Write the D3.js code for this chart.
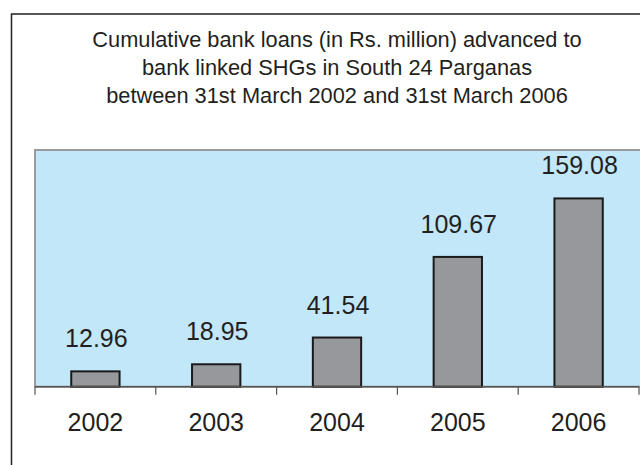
<!DOCTYPE html>
<html><head><meta charset="utf-8">
<script src="https://cdn.jsdelivr.net/npm/d3@7"></script>
<style>html,body{margin:0;padding:0;background:#fff;}svg{display:block;}</style>
</head><body>
<svg id="c" width="640" height="465"></svg>
<script>
const categories = ["2002","2003","2004","2005","2006"];
const values = [12.96, 18.95, 41.54, 109.67, 159.08];
const valueLabels = ["12.96","18.95","41.54","109.67","159.08"];
const titleLines = [
  "Cumulative bank loans (in Rs. million) advanced to",
  "bank linked SHGs in South 24 Parganas",
  "between 31st March 2002 and 31st March 2006"
];
const yDomain = [0, 200];

(function(){
const svg = d3.select("#c");
const font = "'Liberation Sans', Arial, sans-serif";
const ink = "#231f20";

// outer frame
svg.append("rect").attr("x",11.5).attr("y",14).attr("width",700).attr("height",500)
  .attr("fill","#fff").attr("stroke","#222").attr("stroke-width",1.5);

// title
svg.append("g").selectAll("text").data(titleLines).join("text")
  .attr("x",337).attr("y",(d,i)=>47.3+i*27.7)
  .attr("text-anchor","middle").attr("font-family",font).attr("font-size",21.8)
  .attr("fill",ink).text(d=>d);

const pL=35, pR=639, pT=150, pB=386.7;
const x = d3.scaleBand().domain(categories).range([pL,pR]).paddingInner(0.6).paddingOuter(0.3);
const xb = d3.scaleBand().domain(categories).range([pL,pR]).padding(0);
const y = d3.scaleLinear().domain(yDomain).range([pB,pT]);

// plot area
svg.append("rect").attr("x",pL).attr("y",pT).attr("width",pR-pL+10).attr("height",pB-pT)
  .attr("fill","#c2e7f9").attr("stroke","#9a9a9a").attr("stroke-width",2);

// bars
svg.append("g").selectAll("rect").data(values).join("rect")
  .attr("x",(d,i)=>x(categories[i])).attr("width",x.bandwidth())
  .attr("y",d=>y(d)).attr("height",d=>pB-y(d))
  .attr("fill","#97989c").attr("stroke","#1a1a1a").attr("stroke-width",2);

// value labels
svg.append("g").selectAll("text").data(values).join("text")
  .attr("x",(d,i)=>x(categories[i])+x.bandwidth()/2+1)
  .attr("y",d=>y(d)-24)
  .attr("text-anchor","middle").attr("font-family",font).attr("font-size",25)
  .attr("fill",ink).text((d,i)=>valueLabels[i]);

// axis
const ax = svg.append("g").attr("transform",`translate(0,${pB})`)
  .call(d3.axisBottom(x).tickSize(0).tickPadding(27));
ax.select(".domain").remove();
ax.selectAll("text").attr("font-family",font).attr("font-size",25).attr("fill",ink);
svg.append("line").attr("x1",pL).attr("x2",pR).attr("y1",pB).attr("y2",pB)
  .attr("stroke","#555").attr("stroke-width",1.5);
const tickPos = categories.map(c=>xb(c)).concat([xb(categories[categories.length-1])+xb.bandwidth()]);
svg.append("g").selectAll("line").data(tickPos).join("line")
  .attr("x1",d=>d).attr("x2",d=>d).attr("y1",pB).attr("y2",pB+8)
  .attr("stroke","#555").attr("stroke-width",1.2);
})();
</script>
</body></html>
